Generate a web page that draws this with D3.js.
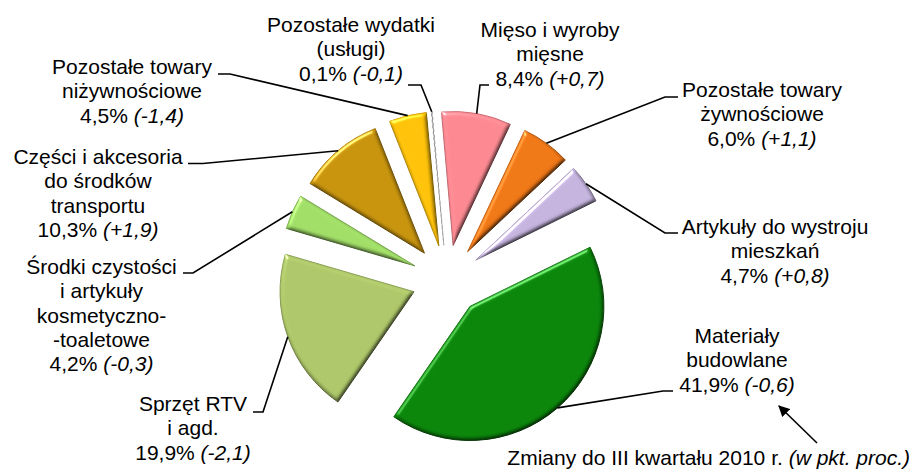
<!DOCTYPE html>
<html>
<head>
<meta charset="utf-8">
<script src="https://cdn.jsdelivr.net/npm/d3@7"></script>
<style>
  html, body { margin: 0; padding: 0; background: #fff; }
  svg { display: block; }
  text { font-family: "Liberation Sans", Arial, sans-serif; font-size: 21px; fill: #000; }
</style>
</head>
<body>
<svg id="chart" width="912" height="474"></svg>
<script>
// ---- data ----
const categories = [
  "Mięso i wyroby mięsne",
  "Pozostałe towary żywnościowe",
  "Artykuły do wystroju mieszkań",
  "Materiały budowlane",
  "Sprzęt RTV i agd.",
  "Środki czystości i artykuły kosmetyczno-toaletowe",
  "Części i akcesoria do środków transportu",
  "Pozostałe towary niżywnościowe",
  "Pozostałe wydatki (usługi)"
];
const nameLines = [
  ["Mięso i wyroby", "mięsne"],
  ["Pozostałe towary", "żywnościowe"],
  ["Artykuły do wystroju", "mieszkań"],
  ["Materiały", "budowlane"],
  ["Sprzęt RTV", "i agd."],
  ["Środki czystości", "i artykuły", "kosmetyczno-", "-toaletowe"],
  ["Części i akcesoria", "do środków", "transportu"],
  ["Pozostałe towary", "niżywnościowe"],
  ["Pozostałe wydatki", "(usługi)"]
];
const shares = [8.4, 6.0, 4.7, 41.9, 19.9, 4.2, 10.3, 4.5, 0.1];
const changes = ["+0,7", "+1,1", "+0,8", "-0,6", "-2,1", "-0,3", "+1,9", "-1,4", "-0,1"];
const noteText = "Zmiany do III kwartału 2010 r. ";
const noteItalic = "(w pkt. proc.)";

// ---- style / layout ----
const colors = ["#fd8a93", "#f07817", "#c6b5df", "#0b870b", "#aec86a", "#a2df68", "#c9950e", "#ffc30a", "#a0a0a0"];
const cx = 447, cy = 280, R = 134, explode = 35;
const startDeg = -5;
const lineH = 24.3;
// label anchors: centre x, first baseline y, leader elbow, leader end
const labelLayout = [
  {x: 550, y: 37,  elbow: [480, 85],  end: [489, 85]},
  {x: 762, y: 97,  elbow: [665, 97],  end: [678, 97]},
  {x: 775, y: 234, elbow: [665, 233], end: [678, 233]},
  {x: 737, y: 343, elbow: [663, 391], end: [673, 391]},
  {x: 193, y: 411, elbow: [263, 412], end: [253, 412]},
  {x: 101.5, y: 274, elbow: [193, 273], end: [183, 273]},
  {x: 98,  y: 164, elbow: [203, 163.5], end: [188, 163.5]},
  {x: 132, y: 74,  elbow: [230, 74],  end: [218, 74]},
  {x: 351, y: 32,  elbow: [421, 85],  end: [408, 85]}
];

const fmt = v => d3.format(".1f")(v).replace(".", ",") + "%";

const svg = d3.select("#chart");
const defs = svg.append("defs");

// bevel filter: diffuse shading (flat = 1) multiplied with colour + edge specular highlight
const f = defs.append("filter").attr("id", "bevel")
  .attr("x", "-10%").attr("y", "-10%").attr("width", "120%").attr("height", "120%")
  .attr("color-interpolation-filters", "sRGB");
f.append("feGaussianBlur").attr("in", "SourceAlpha").attr("stdDeviation", 2).attr("result", "blur");
const dif = f.append("feDiffuseLighting").attr("in", "blur")
  .attr("surfaceScale", 2.5).attr("diffuseConstant", 1.15)
  .attr("lighting-color", "#ffffff").attr("result", "dif");
dif.append("feDistantLight").attr("azimuth", 235).attr("elevation", 60);
const spec = f.append("feSpecularLighting").attr("in", "blur")
  .attr("surfaceScale", 2.5).attr("specularConstant", 0.8).attr("specularExponent", 40)
  .attr("lighting-color", "#ffffff").attr("result", "spec");
spec.append("feDistantLight").attr("azimuth", 235).attr("elevation", 35);
f.append("feComposite").attr("in", "SourceGraphic").attr("in2", "dif")
  .attr("operator", "arithmetic").attr("k1", 1).attr("k2", 0).attr("k3", 0).attr("k4", 0).attr("result", "shaded");
f.append("feComposite").attr("in", "spec").attr("in2", "SourceAlpha").attr("operator", "in").attr("result", "specIn");
f.append("feComposite").attr("in", "shaded").attr("in2", "specIn")
  .attr("operator", "arithmetic").attr("k1", 0).attr("k2", 1).attr("k3", 0.6).attr("k4", 0);

// arrow marker
defs.append("marker").attr("id", "arrow").attr("viewBox", "0 0 10 10")
  .attr("refX", 9).attr("refY", 5).attr("markerWidth", 7).attr("markerHeight", 7)
  .attr("orient", "auto-start-reverse")
  .append("path").attr("d", "M0,0 L10,5 L0,10 z").attr("fill", "#000");

const pie = d3.pie().sort(null).value(d => d)
  .startAngle(startDeg * Math.PI / 180)
  .endAngle((startDeg + 360) * Math.PI / 180);
const arcs = pie(shares);
const arc = d3.arc().innerRadius(0).outerRadius(R);

const g = svg.append("g").attr("transform", `translate(${cx},${cy})`);

const mid = d => (d.startAngle + d.endAngle) / 2;
const ux = a => Math.sin(a), uy = a => -Math.cos(a);

g.selectAll("path.slice").data(arcs).enter().append("path")
  .attr("class", "slice")
  .attr("transform", d => `translate(${explode * ux(mid(d))},${explode * uy(mid(d))})`)
  .attr("d", arc)
  .attr("fill", (d, i) => colors[i])
  .attr("stroke", (d, i) => d3.color(colors[i]).darker(0.6))
  .attr("stroke-width", (d, i) => shares[i] < 1 ? 0.8 : 1)
  .attr("stroke-dasharray", (d, i) => shares[i] < 1 ? "3,3" : null)
  .attr("filter", (d, i) => shares[i] < 1 ? null : "url(#bevel)");

// leaders
const leaders = svg.append("g");
arcs.forEach((d, i) => {
  const a = mid(d);
  const s = [cx + (explode + R) * ux(a), cy + (explode + R) * uy(a)];
  const L = labelLayout[i];
  leaders.append("path")
    .attr("d", d3.line()([s, L.elbow, L.end]))
    .attr("fill", "none").attr("stroke", "#000").attr("stroke-width", 1.6);
});

// labels
const labels = svg.append("g");
categories.forEach((c, i) => {
  const L = labelLayout[i];
  const lines = nameLines[i];
  lines.forEach((ln, k) => {
    labels.append("text").attr("x", L.x).attr("y", L.y + k * lineH)
      .attr("text-anchor", "middle").text(ln);
  });
  const t = labels.append("text").attr("x", L.x).attr("y", L.y + lines.length * lineH)
    .attr("text-anchor", "middle");
  t.append("tspan").text(fmt(shares[i]) + " ");
  t.append("tspan").attr("font-style", "italic").text("(" + changes[i] + ")");
});

// note + arrow
const note = svg.append("text").attr("x", 910).attr("y", 465).attr("text-anchor", "end");
note.append("tspan").text(noteText);
note.append("tspan").attr("font-style", "italic").text(noteItalic);
svg.append("line").attr("x1", 817).attr("y1", 443).attr("x2", 779).attr("y2", 406)
  .attr("stroke", "#000").attr("stroke-width", 1.6).attr("marker-end", "url(#arrow)");
</script>
</body>
</html>
